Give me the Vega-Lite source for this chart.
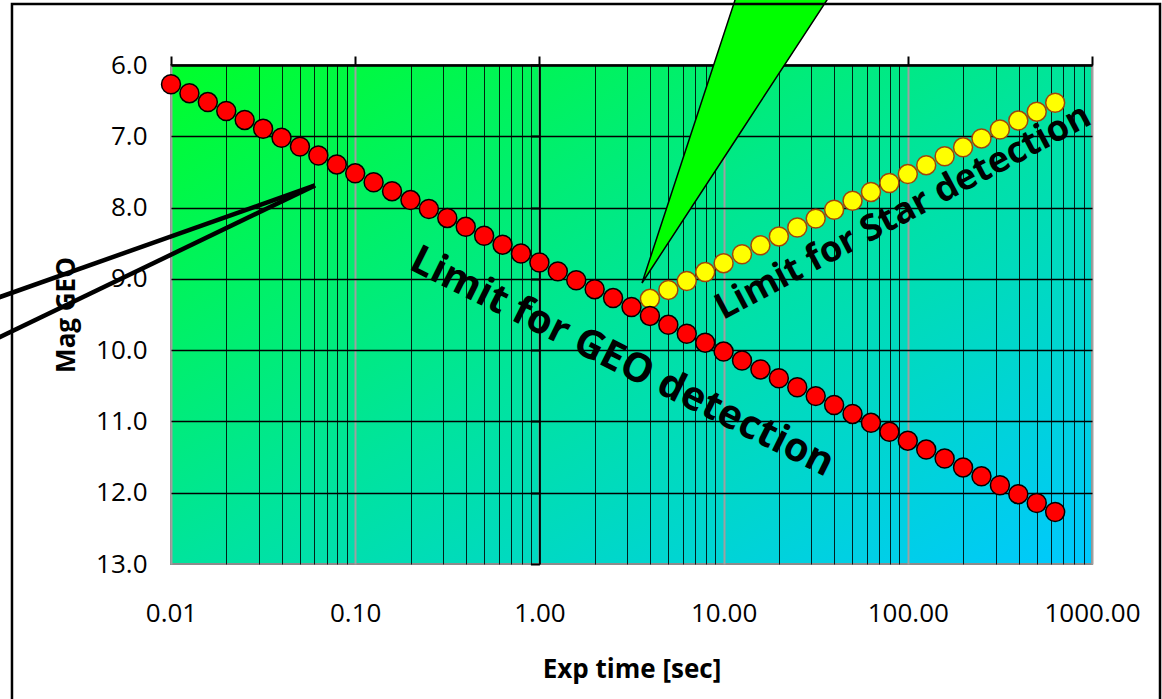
{
  "$schema": "https://vega.github.io/schema/vega-lite/v6.json",
  "autosize": {"type": "none"},
  "width": 921,
  "height": 499,
  "padding": {"left": 171, "top": 65, "right": 70, "bottom": 135},
  "background": "white",
  "config": {
    "font": "Open Sans",
    "view": {
      "stroke": "#8c8c8c",
      "strokeWidth": 2,
      "fill": {
        "gradient": "linear", "x1": 0, "y1": 0, "x2": 1, "y2": 1,
        "stops": [
          {"offset": 0, "color": "#00ff2a"},
          {"offset": 0.5, "color": "#00e49c"},
          {"offset": 1, "color": "#00c8ff"}
        ]
      }
    }
  },
  "datasets": {
    "geo": [
      {"t": 0.01, "mag": 6.27}, {"t": 0.012589, "mag": 6.395}, {"t": 0.015849, "mag": 6.52}, {"t": 0.019953, "mag": 6.645}, {"t": 0.025119, "mag": 6.77}, {"t": 0.031623, "mag": 6.895}, {"t": 0.039811, "mag": 7.02}, {"t": 0.050119, "mag": 7.145}, {"t": 0.063096, "mag": 7.27}, {"t": 0.079433, "mag": 7.395},
      {"t": 0.1, "mag": 7.52}, {"t": 0.12589, "mag": 7.645}, {"t": 0.15849, "mag": 7.77}, {"t": 0.19953, "mag": 7.895}, {"t": 0.25119, "mag": 8.02}, {"t": 0.31623, "mag": 8.145}, {"t": 0.39811, "mag": 8.27}, {"t": 0.50119, "mag": 8.395}, {"t": 0.63096, "mag": 8.52}, {"t": 0.79433, "mag": 8.645},
      {"t": 1, "mag": 8.77}, {"t": 1.2589, "mag": 8.895}, {"t": 1.5849, "mag": 9.02}, {"t": 1.9953, "mag": 9.145}, {"t": 2.5119, "mag": 9.27}, {"t": 3.1623, "mag": 9.395}, {"t": 3.9811, "mag": 9.52}, {"t": 5.0119, "mag": 9.645}, {"t": 6.3096, "mag": 9.77}, {"t": 7.9433, "mag": 9.895},
      {"t": 10, "mag": 10.02}, {"t": 12.589, "mag": 10.145}, {"t": 15.849, "mag": 10.27}, {"t": 19.953, "mag": 10.395}, {"t": 25.119, "mag": 10.52}, {"t": 31.623, "mag": 10.645}, {"t": 39.811, "mag": 10.77}, {"t": 50.119, "mag": 10.895}, {"t": 63.096, "mag": 11.02}, {"t": 79.433, "mag": 11.145},
      {"t": 100, "mag": 11.27}, {"t": 125.89, "mag": 11.395}, {"t": 158.49, "mag": 11.52}, {"t": 199.53, "mag": 11.645}, {"t": 251.19, "mag": 11.77}, {"t": 316.23, "mag": 11.895}, {"t": 398.11, "mag": 12.02}, {"t": 501.19, "mag": 12.145}, {"t": 630.96, "mag": 12.27}
    ],
    "star": [
      {"t": 3.9811, "mag": 9.28}, {"t": 5.0119, "mag": 9.155}, {"t": 6.3096, "mag": 9.03}, {"t": 7.9433, "mag": 8.905}, {"t": 10, "mag": 8.78}, {"t": 12.589, "mag": 8.655}, {"t": 15.849, "mag": 8.53}, {"t": 19.953, "mag": 8.405}, {"t": 25.119, "mag": 8.28}, {"t": 31.623, "mag": 8.155}, {"t": 39.811, "mag": 8.03}, {"t": 50.119, "mag": 7.905}, {"t": 63.096, "mag": 7.78}, {"t": 79.433, "mag": 7.655}, {"t": 100, "mag": 7.53}, {"t": 125.89, "mag": 7.405}, {"t": 158.49, "mag": 7.28}, {"t": 199.53, "mag": 7.155}, {"t": 251.19, "mag": 7.03}, {"t": 316.23, "mag": 6.905}, {"t": 398.11, "mag": 6.78}, {"t": 501.19, "mag": 6.655}, {"t": 630.96, "mag": 6.53}
    ],
    "callout": [
      {"line": "a", "t": 0.0010409, "mag": 9.304}, {"line": "a", "t": 0.06049, "mag": 7.69},
      {"line": "b", "t": 0.0010409, "mag": 9.882}, {"line": "b", "t": 0.06049, "mag": 7.69}
    ],
    "pointer": [
      {"t": 3.606, "top": 9.058, "bot": 9.058},
      {"t": 12.02, "top": 4.948, "bot": 6.992},
      {"t": 39.51, "top": 4.948, "bot": 4.948}
    ]
  },
  "layer": [
    {
      "data": {"name": "star"},
      "mark": {"type": "circle", "size": 360, "fill": "#ffff00", "stroke": "#a0440c", "strokeWidth": 1.5, "opacity": 1},
      "encoding": {
        "x": {
          "field": "t", "type": "quantitative",
          "scale": {"type": "log", "domain": [0.01, 1000], "nice": false},
          "axis": {
            "orient": "bottom",
            "values": [0.01, 0.02, 0.03, 0.04, 0.05, 0.06, 0.07, 0.08, 0.09, 0.1, 0.2, 0.3, 0.4, 0.5, 0.6, 0.7, 0.8, 0.9, 1, 2, 3, 4, 5, 6, 7, 8, 9, 10, 20, 30, 40, 50, 60, 70, 80, 90, 100, 200, 300, 400, 500, 600, 700, 800, 900, 1000],
            "labelExpr": "indexof([0.01, 0.1, 1, 10, 100, 1000], datum.value) >= 0 ? format(datum.value, '.2f') : ''",
            "labelOverlap": false, "labelFlush": false, "labelBound": false,
            "labelFontSize": 26, "labelColor": "#000000", "labelPadding": 36,
            "ticks": false, "tickSize": 0, "domain": false,
            "grid": true,
            "gridColor": {"condition": {"test": "indexof([0.01, 0.1, 1, 10, 100, 1000], datum.value) >= 0", "value": "#a0a0a0"}, "value": "#000000"},
            "gridOpacity": {"condition": {"test": "indexof([0.01, 0.1, 1, 10, 100, 1000], datum.value) >= 0", "value": 1}, "value": 0.85},
            "gridWidth": {"condition": {"test": "indexof([0.01, 0.1, 1, 10, 100, 1000], datum.value) >= 0", "value": 2}, "value": 1},
            "title": "Exp time [sec]", "titleFontSize": 26, "titleFontWeight": "bold", "titleColor": "#000000", "titlePadding": 30
          }
        },
        "y": {
          "field": "mag", "type": "quantitative",
          "scale": {"domain": [6, 13], "reverse": true, "nice": false, "zero": false},
          "axis": {
            "orient": "left",
            "values": [6, 7, 8, 9, 10, 11, 12, 13],
            "format": ".1f",
            "labelFontSize": 26, "labelColor": "#000000", "labelPadding": 24,
            "ticks": false, "tickSize": 0, "domain": false,
            "grid": true, "gridColor": "#000000", "gridWidth": 1.5,
            "gridOpacity": {"condition": {"test": "datum.value == 13", "value": 0}, "value": 1},
            "title": "Mag GEO", "titleFontSize": 26, "titleFontWeight": "bold", "titleColor": "#000000", "titlePadding": 16
          }
        }
      }
    },
    {
      "data": {"name": "geo"},
      "mark": {"type": "circle", "size": 360, "fill": "#ff0000", "stroke": "#000000", "strokeWidth": 1.5, "opacity": 1},
      "encoding": {
        "x": {
          "field": "t", "type": "quantitative",
          "scale": {"type": "log", "domain": [0.01, 1000], "nice": false},
          "axis": {
            "orient": "top", "values": [0.01, 0.1, 1, 10, 100, 1000],
            "labels": false, "grid": false,
            "ticks": true, "tickSize": 9, "tickWidth": 2, "tickColor": "#000000",
            "domain": true, "domainColor": "#000000", "domainWidth": 2.5,
            "title": null
          }
        },
        "y": {
          "field": "mag", "type": "quantitative",
          "scale": {"domain": [6, 13], "reverse": true, "nice": false, "zero": false},
          "axis": {
            "orient": "left", "offset": -368.4, "values": [6, 7, 8, 9, 10, 11, 12, 13],
            "labels": false, "grid": false,
            "ticks": true, "tickSize": 9, "tickWidth": 2, "tickColor": "#000000",
            "domain": true, "domainColor": "#000000", "domainWidth": 2,
            "title": null
          }
        }
      }
    },
    {
      "data": {"name": "callout"},
      "mark": {"type": "line", "color": "#000000", "strokeWidth": 4.5},
      "encoding": {
        "x": {"field": "t", "type": "quantitative", "scale": {"type": "log", "domain": [0.01, 1000], "nice": false}, "axis": null},
        "y": {"field": "mag", "type": "quantitative", "scale": {"domain": [6, 13], "reverse": true, "nice": false, "zero": false}, "axis": null},
        "detail": {"field": "line"}
      }
    },
    {
      "data": {"name": "pointer"},
      "mark": {"type": "area", "fill": "#00ff00", "fillOpacity": 1, "stroke": "#000000", "strokeWidth": 1.5, "line": false},
      "encoding": {
        "x": {"field": "t", "type": "quantitative", "scale": {"type": "log", "domain": [0.01, 1000], "nice": false}, "axis": null},
        "y": {"field": "top", "type": "quantitative", "scale": {"domain": [6, 13], "reverse": true, "nice": false, "zero": false}, "axis": null},
        "y2": {"field": "bot"}
      }
    },
    {
      "data": {"values": [{"t": 2.809, "mag": 10.166, "label": "Limit for GEO detection"}]},
      "mark": {"type": "text", "angle": 26.5, "font": "Open Sans", "fontSize": 40, "fontWeight": "bold", "align": "center", "baseline": "middle", "color": "#000000"},
      "encoding": {
        "x": {"field": "t", "type": "quantitative", "scale": {"type": "log", "domain": [0.01, 1000], "nice": false}, "axis": null},
        "y": {"field": "mag", "type": "quantitative", "scale": {"domain": [6, 13], "reverse": true, "nice": false, "zero": false}, "axis": null},
        "text": {"field": "label"}
      }
    },
    {
      "data": {"values": [{"t": 94.2, "mag": 8.062, "label": "Limit for Star detection"}]},
      "mark": {"type": "text", "angle": 332, "font": "Open Sans", "fontSize": 36, "fontWeight": "bold", "align": "center", "baseline": "middle", "color": "#000000"},
      "encoding": {
        "x": {"field": "t", "type": "quantitative", "scale": {"type": "log", "domain": [0.01, 1000], "nice": false}, "axis": null},
        "y": {"field": "mag", "type": "quantitative", "scale": {"domain": [6, 13], "reverse": true, "nice": false, "zero": false}, "axis": null},
        "text": {"field": "label"}
      }
    },
    {
      "data": {"values": [{"x1": 0.00137, "x2": 2340, "y1": 5.1445, "y2": 15.05}]},
      "mark": {"type": "rect", "filled": false, "color": "#000000", "strokeWidth": 2.5},
      "encoding": {
        "x": {"field": "x1", "type": "quantitative", "scale": {"type": "log", "domain": [0.01, 1000], "nice": false}, "axis": null},
        "x2": {"field": "x2"},
        "y": {"field": "y1", "type": "quantitative", "scale": {"domain": [6, 13], "reverse": true, "nice": false, "zero": false}, "axis": null},
        "y2": {"field": "y2"}
      }
    }
  ],
  "resolve": {"axis": {"x": "independent", "y": "independent"}}
}
